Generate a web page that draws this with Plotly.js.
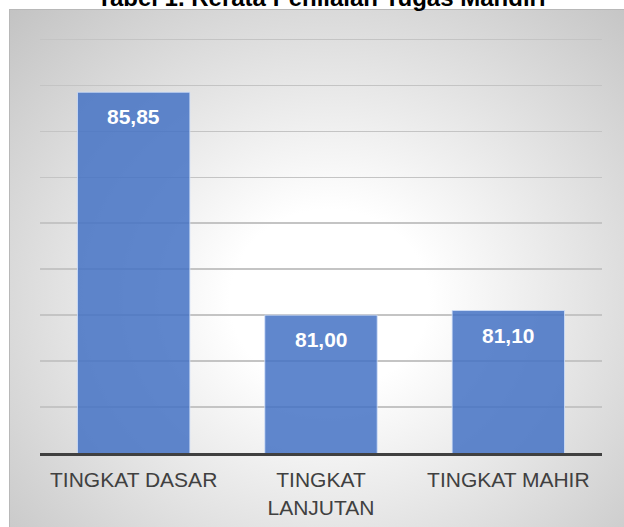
<!DOCTYPE html>
<html>
<head>
<meta charset="utf-8">
<script src="https://cdn.plot.ly/plotly-3.0.1.min.js"></script>
<style>
  html, body { margin: 0; padding: 0; background: #ffffff; }
  #wrap { position: relative; width: 624px; height: 527px; overflow: hidden; }
  #bg { position: absolute; left: 9px; top: 9px; width: 615px; height: 518px;
        background: radial-gradient(ellipse farthest-corner at 52% 56%, #ffffff 0%, #ffffff 22%, #c3c3c3 100%);
        border-left: 1px solid #b8b8b8; border-top: 1px solid #b8b8b8; box-sizing: border-box; }
  #chart { position: absolute; left: 0; top: 0; width: 624px; height: 527px; }
</style>
</head>
<body>
<div id="wrap">
  <div id="bg"></div>
  <div id="chart"></div>
</div>
<script>
const categories = ["TINGKAT DASAR", "TINGKAT<br>LANJUTAN", "TINGKAT MAHIR"];
const values = [85.85, 81.00, 81.10];
const valueLabels = ["85,85", "81,00", "81,10"];
const titleText = "Tabel 1. Rerata Penilaian Tugas Mandiri";

const trace = {
  type: "bar",
  x: categories,
  y: values,
  marker: { color: "rgba(68,114,196,0.85)", line: { color: "rgba(210,225,250,0.8)", width: 1 } },
  hoverinfo: "none"
};

const annotations = categories.map((c, i) => ({
  x: c, y: values[i], xref: "x", yref: "y",
  text: "<b>" + valueLabels[i] + "</b>",
  showarrow: false, yanchor: "top", yshift: -11,
  font: { family: "Liberation Sans, Arial, sans-serif", size: 21, color: "#ffffff" }
}));

annotations.push({
  xref: "paper", yref: "paper", x: 0.5, y: 1, yshift: 41,
  xanchor: "center", yanchor: "middle", showarrow: false,
  text: "<b>" + titleText + "</b>",
  font: { family: "Liberation Sans, Arial, sans-serif", size: 24, color: "#000000" }
});

const layout = {
  width: 624, height: 527,
  paper_bgcolor: "rgba(0,0,0,0)",
  plot_bgcolor: "rgba(0,0,0,0)",
  margin: { l: 40, r: 22, t: 38, b: 74, pad: 0 },
  showlegend: false,
  bargap: 0.4,
  xaxis: {
    showline: true, linecolor: "#404040", linewidth: 3,
    ticks: "", showgrid: false, ticklabelstandoff: 6,
    tickfont: { family: "Liberation Sans, Arial, sans-serif", size: 21, color: "#404040" },
    fixedrange: true
  },
  yaxis: {
    range: [78, 87.03], dtick: 1, tick0: 78,
    showticklabels: false, ticks: "",
    showgrid: true, gridcolor: "#c4c4c4", gridwidth: 1.5,
    zeroline: false, showline: false, fixedrange: true
  },
  annotations: annotations
};

Plotly.newPlot("chart", [trace], layout, { displayModeBar: false, staticPlot: true });
</script>
</body>
</html>
